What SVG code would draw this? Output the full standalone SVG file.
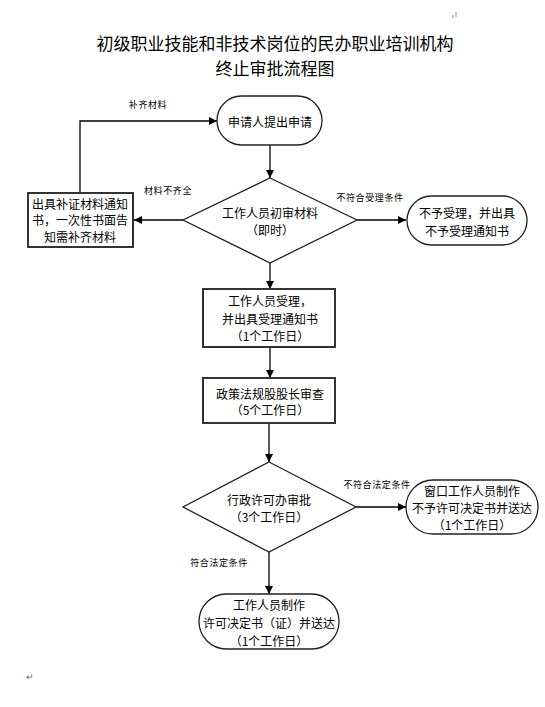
<svg xmlns="http://www.w3.org/2000/svg" width="545" height="707" viewBox="0 0 545 707">
<style>
text{font-family:"Noto Sans CJK SC","Liberation Sans",sans-serif;fill:#000;text-anchor:middle;dominant-baseline:central}
.t{font-size:17px}
.n{font-size:12px}
.l{font-size:9px;letter-spacing:0.6px}
.s{fill:#fff;stroke:#222;stroke-width:1.3}
.b{fill:#fff;stroke:#333;stroke-width:2}
.c{fill:none;stroke:#000;stroke-width:1.3;marker-end:url(#ah)}
</style>
<defs>
<marker id="ah" markerWidth="8" markerHeight="8" refX="8" refY="4" orient="auto" markerUnits="userSpaceOnUse">
<path d="M0,0 L8,4 L0,8 Z" fill="#000"/>
</marker>
</defs>
<rect width="545" height="707" fill="#fff"/>
<path d="M453,15 v3 M456,12 v5" stroke="#888" stroke-width="1"/>
<g id="title">
<text class="t" x="275" y="42">初级职业技能和非技术岗位的民办职业培训机构</text>
<text class="t" x="275" y="67">终止审批流程图</text>
</g>
<g id="connectors">
<path class="c" d="M270,145 V178"/>
<path class="c" d="M183,220 H134"/>
<path class="c" d="M80,193 V121 H217"/>
<path class="c" d="M357,220 H406"/>
<path class="c" d="M270,263 V289"/>
<path class="c" d="M270,347 V378"/>
<path class="c" d="M269,423 V462"/>
<path class="c" d="M356,507 H406"/>
<path class="c" d="M269,552 V594"/>
<text class="l" x="148" y="104">补齐材料</text>
<text class="l" x="168" y="190">材料不齐全</text>
<text class="l" x="370" y="197">不符合受理条件</text>
<text class="l" x="377" y="484">不符合法定条件</text>
<text class="l" x="219" y="562">符合法定条件</text>
</g>
<g id="n1">
<rect class="s" x="217" y="96" width="105" height="49" rx="24.5"/>
<text class="n" x="270" y="121">申请人提出申请</text>
</g>
<g id="d1">
<path class="s" d="M270,178 L357,220 L270,263 L183,220 Z"/>
<text class="n" x="270" y="212">工作人员初审材料</text>
<text class="n" x="270" y="229">（即时）</text>
</g>
<g id="n_supp">
<rect class="b" x="28" y="193" width="105" height="54"/>
<text class="n" x="80" y="203">出具补证材料通知</text>
<text class="n" x="80" y="219">书，一次性书面告</text>
<text class="n" x="80" y="236">知需补齐材料</text>
</g>
<g id="n_reject">
<rect class="s" x="407" y="196" width="120" height="49" rx="24.5"/>
<text class="n" x="467" y="212">不予受理，并出具</text>
<text class="n" x="467" y="230">不予受理通知书</text>
</g>
<g id="n2">
<rect class="b" x="203" y="289" width="132" height="58"/>
<text class="n" x="270" y="300">工作人员受理，</text>
<text class="n" x="270" y="318">并出具受理通知书</text>
<text class="n" x="270" y="335">（1个工作日）</text>
</g>
<g id="n3">
<rect class="b" x="203" y="378" width="132" height="45"/>
<text class="n" x="270" y="393">政策法规股股长审查</text>
<text class="n" x="270" y="409">（5个工作日）</text>
</g>
<g id="d2">
<path class="s" d="M269,462 L356,507 L269,552 L183,507 Z"/>
<text class="n" x="269" y="499">行政许可办审批</text>
<text class="n" x="269" y="516">（3个工作日）</text>
</g>
<g id="n_deny">
<rect class="s" x="406" y="480" width="132" height="54" rx="27"/>
<text class="n" x="472" y="490">窗口工作人员制作</text>
<text class="n" x="472" y="507">不予许可决定书并送达</text>
<text class="n" x="472" y="524">（1个工作日）</text>
</g>
<g id="n_grant">
<rect class="s" x="199" y="594" width="140" height="55" rx="27.5"/>
<text class="n" x="269" y="604">工作人员制作</text>
<text class="n" x="269" y="622">许可决定书（证）并送达</text>
<text class="n" x="269" y="640">（1个工作日）</text>
</g>
<text x="30" y="676" style="font-size:9px;fill:#666">↵</text>
</svg>
